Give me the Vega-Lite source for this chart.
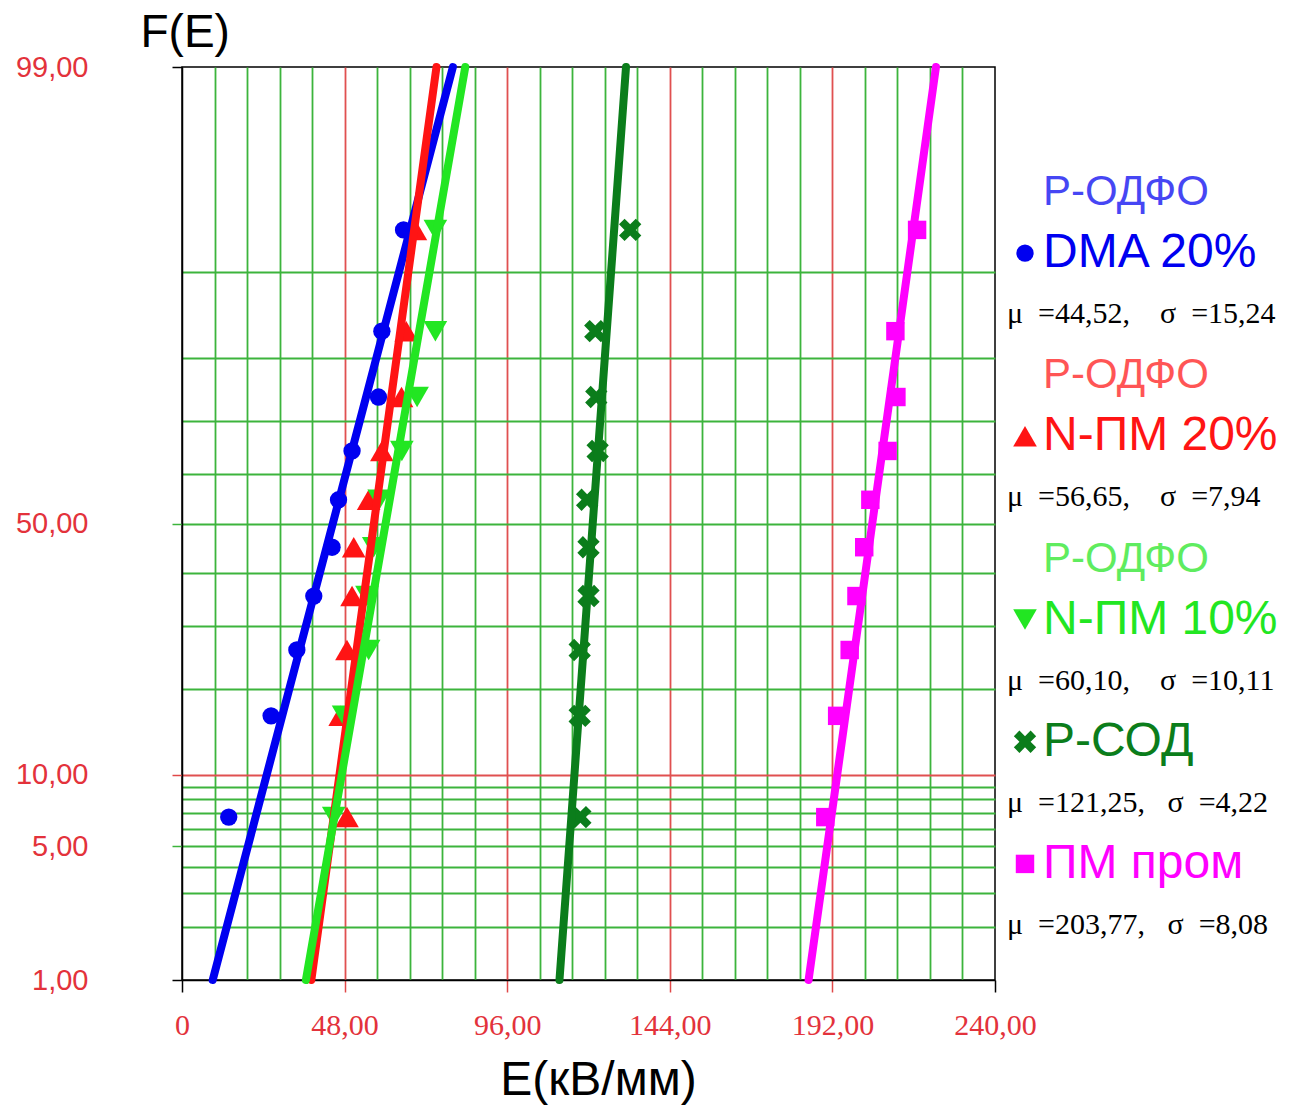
{
  "$schema": "https://vega.github.io/schema/vega-lite/v6.json",
  "background": "white",
  "padding": {"left": 14, "top": 8, "right": 0, "bottom": 0},
  "bounds": "flush",
  "spacing": 12,
  "datasets": {
    "points": [
      {"series": "DMA 20%", "F": 6.73, "E": 13.8},
      {"series": "DMA 20%", "F": 16.35, "E": 26.3},
      {"series": "DMA 20%", "F": 25.96, "E": 33.9},
      {"series": "DMA 20%", "F": 35.58, "E": 38.9},
      {"series": "DMA 20%", "F": 45.19, "E": 44.3},
      {"series": "DMA 20%", "F": 54.81, "E": 46.2},
      {"series": "DMA 20%", "F": 64.42, "E": 50.2},
      {"series": "DMA 20%", "F": 74.04, "E": 58.0},
      {"series": "DMA 20%", "F": 83.65, "E": 59.0},
      {"series": "DMA 20%", "F": 93.27, "E": 65.4},
      {"series": "N-ПМ 20%", "F": 6.73, "E": 48.7},
      {"series": "N-ПМ 20%", "F": 16.35, "E": 46.7},
      {"series": "N-ПМ 20%", "F": 25.96, "E": 48.7},
      {"series": "N-ПМ 20%", "F": 35.58, "E": 50.2},
      {"series": "N-ПМ 20%", "F": 45.19, "E": 50.7},
      {"series": "N-ПМ 20%", "F": 54.81, "E": 55.1},
      {"series": "N-ПМ 20%", "F": 64.42, "E": 59.0},
      {"series": "N-ПМ 20%", "F": 74.04, "E": 64.8},
      {"series": "N-ПМ 20%", "F": 83.65, "E": 66.2},
      {"series": "N-ПМ 20%", "F": 93.27, "E": 68.9},
      {"series": "N-ПМ 10%", "F": 6.73, "E": 44.8},
      {"series": "N-ПМ 10%", "F": 16.35, "E": 47.7},
      {"series": "N-ПМ 10%", "F": 25.96, "E": 55.1},
      {"series": "N-ПМ 10%", "F": 35.58, "E": 54.6},
      {"series": "N-ПМ 10%", "F": 45.19, "E": 56.6},
      {"series": "N-ПМ 10%", "F": 54.81, "E": 58.2},
      {"series": "N-ПМ 10%", "F": 64.42, "E": 64.9},
      {"series": "N-ПМ 10%", "F": 74.04, "E": 69.4},
      {"series": "N-ПМ 10%", "F": 83.65, "E": 74.8},
      {"series": "N-ПМ 10%", "F": 93.27, "E": 74.8},
      {"series": "Р-СОД", "F": 6.73, "E": 117.6},
      {"series": "Р-СОД", "F": 16.35, "E": 117.4},
      {"series": "Р-СОД", "F": 25.96, "E": 117.4},
      {"series": "Р-СОД", "F": 35.58, "E": 120.0},
      {"series": "Р-СОД", "F": 45.19, "E": 120.0},
      {"series": "Р-СОД", "F": 54.81, "E": 119.6},
      {"series": "Р-СОД", "F": 64.42, "E": 122.7},
      {"series": "Р-СОД", "F": 74.04, "E": 122.3},
      {"series": "Р-СОД", "F": 83.65, "E": 122.0},
      {"series": "Р-СОД", "F": 93.27, "E": 132.3},
      {"series": "ПМ пром", "F": 6.73, "E": 189.9},
      {"series": "ПМ пром", "F": 16.35, "E": 193.4},
      {"series": "ПМ пром", "F": 25.96, "E": 197.1},
      {"series": "ПМ пром", "F": 35.58, "E": 199.1},
      {"series": "ПМ пром", "F": 45.19, "E": 201.4},
      {"series": "ПМ пром", "F": 54.81, "E": 203.2},
      {"series": "ПМ пром", "F": 64.42, "E": 208.3},
      {"series": "ПМ пром", "F": 74.04, "E": 210.9},
      {"series": "ПМ пром", "F": 83.65, "E": 210.6},
      {"series": "ПМ пром", "F": 93.27, "E": 217.0}
    ],
    "fits": [
      {"series": "DMA 20%", "F": 1, "E": 9.07},
      {"series": "DMA 20%", "F": 99, "E": 79.97},
      {"series": "N-ПМ 20%", "F": 1, "E": 38.18},
      {"series": "N-ПМ 20%", "F": 99, "E": 75.12},
      {"series": "N-ПМ 10%", "F": 1, "E": 36.58},
      {"series": "N-ПМ 10%", "F": 99, "E": 83.62},
      {"series": "Р-СОД", "F": 1, "E": 111.43},
      {"series": "Р-СОД", "F": 99, "E": 131.07},
      {"series": "ПМ пром", "F": 1, "E": 184.97},
      {"series": "ПМ пром", "F": 99, "E": 222.57}
    ],
    "legend": [
      {"line": 1, "series": "DMA 20%", "role": "header", "text": "Р-ОДФО"},
      {"line": 2, "series": "DMA 20%", "role": "name", "text": "DMA 20%"},
      {"line": 3, "series": "DMA 20%", "role": "stats", "text": "μ\u00a0\u00a0=44,52,\u00a0\u00a0\u00a0\u00a0σ\u00a0\u00a0=15,24"},
      {"line": 4, "series": "N-ПМ 20%", "role": "header", "text": "Р-ОДФО"},
      {"line": 5, "series": "N-ПМ 20%", "role": "name", "text": "N-ПМ 20%"},
      {"line": 6, "series": "N-ПМ 20%", "role": "stats", "text": "μ\u00a0\u00a0=56,65,\u00a0\u00a0\u00a0\u00a0σ\u00a0\u00a0=7,94"},
      {"line": 7, "series": "N-ПМ 10%", "role": "header", "text": "Р-ОДФО"},
      {"line": 8, "series": "N-ПМ 10%", "role": "name", "text": "N-ПМ 10%"},
      {"line": 9, "series": "N-ПМ 10%", "role": "stats", "text": "μ\u00a0\u00a0=60,10,\u00a0\u00a0\u00a0\u00a0σ\u00a0\u00a0=10,11"},
      {"line": 10, "series": "Р-СОД", "role": "name", "text": "Р-СОД"},
      {"line": 11, "series": "Р-СОД", "role": "stats", "text": "μ\u00a0\u00a0=121,25,\u00a0\u00a0\u00a0σ\u00a0\u00a0=4,22"},
      {"line": 12, "series": "ПМ пром", "role": "name", "text": "ПМ пром"},
      {"line": 13, "series": "ПМ пром", "role": "stats", "text": "μ\u00a0\u00a0=203,77,\u00a0\u00a0\u00a0σ\u00a0\u00a0=8,08"}
    ]
  },
  "resolve": {"scale": {"color": "shared", "shape": "shared", "size": "shared"}},
  "hconcat": [
    {
      "width": 813,
      "height": 913,
      "view": {"stroke": "black", "strokeWidth": 1.5},
      "layer": [
        {
          "data": {"name": "points"},
          "transform": [{"calculate": "quantileNormal(datum.F / 100)", "as": "z"}],
          "mark": {"type": "point", "filled": true, "opacity": 1},
          "encoding": {
            "x": {
              "field": "E", "type": "quantitative",
              "scale": {"domain": [0, 240], "nice": false, "zero": false},
              "axis": {
                "title": "E(кВ/мм)",
                "titleFont": "Liberation Sans", "titleFontSize": 48, "titleFontWeight": "normal",
                "titleColor": "black", "titlePadding": 16, "titleX": 416,
                "values": [0, 9.6, 19.2, 28.8, 38.4, 48, 57.6, 67.2, 76.8, 86.4, 96, 105.6, 115.2, 124.8, 134.4, 144, 153.6, 163.2, 172.8, 182.4, 192, 201.6, 211.2, 220.8, 230.4, 240],
                "tickCount": 60,
                "labelExpr": "datum.value == 0 ? '0' : (abs(datum.value / 48 - round(datum.value / 48)) < 0.001 ? replace(format(datum.value, '.2f'), '.', ',') : '')",
                "labelFont": "Liberation Sans Narrow", "labelFontSize": 30, "labelColor": "#e3323b",
                "labelPadding": 18, "labelOverlap": false, "labelFlush": false,
                "tickSize": 12, "tickWidth": 1.5,
                "tickColor": {"condition": {"test": "datum.value < 0.1 || datum.value > 239.9", "value": "black"}, "value": "#e04848"},
                "tickOpacity": {"condition": {"test": "abs(datum.value / 48 - round(datum.value / 48)) < 0.001", "value": 1}, "value": 0},
                "grid": true, "gridWidth": 1.8,
                "gridColor": {"condition": {"test": "abs(datum.value / 48 - round(datum.value / 48)) < 0.001", "value": "#e05050"}, "value": "#3cb43c"},
                "gridOpacity": {"condition": {"test": "datum.value < 0.1 || datum.value > 239.9", "value": 0}, "value": 1},
                "domainColor": "black", "domainWidth": 1.5
              }
            },
            "y": {
              "field": "z", "type": "quantitative",
              "scale": {"domain": [-2.326348, 2.326348], "nice": false, "zero": false},
              "axis": {
                "title": "F(E)", "titleAngle": 0, "titleAlign": "left", "titleBaseline": "alphabetic",
                "titleX": -42, "titleY": -21,
                "titleFont": "Liberation Sans", "titleFontSize": 46, "titleFontWeight": "normal", "titleColor": "black",
                "values": [-2.326348, -2.053749, -1.880794, -1.750686, -1.644854, -1.554774, -1.475791, -1.405072, -1.340755, -1.281552, -0.841621, -0.524401, -0.253347, 0, 0.253347, 0.524401, 0.841621, 1.281552, 2.326348],
                "tickCount": 60,
                "labelExpr": "indexof([1, 5, 10, 50, 99], round(cumulativeNormal(datum.value) * 100)) >= 0 ? replace(format(round(cumulativeNormal(datum.value) * 100), '.2f'), '.', ',') : ''",
                "labelFont": "Liberation Sans", "labelFontSize": 29, "labelColor": "#e3323b",
                "labelPadding": 84, "labelOverlap": false, "labelFlush": false, "labelBaseline": "middle",
                "tickSize": 10, "tickWidth": 1.5,
                "tickColor": {"condition": [
                  {"test": "abs(datum.value + 1.281552) < 0.001", "value": "#e04848"},
                  {"test": "abs(datum.value) > 2.3", "value": "black"}
                ], "value": "#3cb43c"},
                "tickOpacity": {"condition": {"test": "indexof([1, 5, 10, 50, 99], round(cumulativeNormal(datum.value) * 100)) >= 0", "value": 1}, "value": 0},
                "grid": true, "gridWidth": 1.8,
                "gridColor": {"condition": {"test": "abs(datum.value + 1.281552) < 0.001", "value": "#e05050"}, "value": "#3cb43c"},
                "gridOpacity": {"condition": {"test": "abs(datum.value) > 2.3", "value": 0}, "value": 1},
                "domainColor": "black", "domainWidth": 1.5
              }
            },
            "color": {
              "field": "series", "type": "nominal", "legend": null,
              "scale": {
                "domain": ["DMA 20%", "N-ПМ 20%", "N-ПМ 10%", "Р-СОД", "ПМ пром"],
                "range": ["#0000f0", "#ff1414", "#22e622", "#0b7d1b", "#ff00ff"]
              }
            },
            "shape": {
              "field": "series", "type": "nominal", "legend": null,
              "scale": {
                "domain": ["DMA 20%", "N-ПМ 20%", "N-ПМ 10%", "Р-СОД", "ПМ пром"],
                "range": ["circle", "triangle-up", "triangle-down", "M-1,-0.5L-0.5,-1L0,-0.5L0.5,-1L1,-0.5L0.5,0L1,0.5L0.5,1L0,0.5L-0.5,1L-1,0.5L-0.5,0Z", "square"]
              }
            },
            "size": {
              "field": "series", "type": "nominal", "legend": null,
              "scale": {
                "type": "ordinal",
                "domain": ["DMA 20%", "N-ПМ 20%", "N-ПМ 10%", "Р-СОД", "ПМ пром"],
                "range": [300, 560, 560, 500, 340]
              }
            }
          }
        },
        {
          "data": {"name": "fits"},
          "transform": [{"calculate": "quantileNormal(datum.F / 100)", "as": "z"}],
          "mark": {"type": "line", "strokeWidth": 8, "strokeCap": "round"},
          "encoding": {
            "x": {"field": "E", "type": "quantitative"},
            "y": {"field": "z", "type": "quantitative"},
            "color": {"field": "series", "type": "nominal", "legend": null}
          }
        }
      ]
    },
    {
      "width": 36,
      "height": 913,
      "data": {"name": "legend"},
      "encoding": {
        "y": {"field": "line", "type": "ordinal", "axis": null, "scale": {"type": "point", "padding": 0, "range": [125, 858]}}
      },
      "layer": [
        {
          "transform": [{"filter": "datum.role == 'header'"}],
          "mark": {"type": "text", "align": "left", "baseline": "middle", "font": "Liberation Sans", "fontSize": 42, "opacity": 0.72},
          "encoding": {
            "x": {"datum": "name", "type": "nominal", "axis": null, "scale": {"type": "point", "domain": ["stats", "marker", "name"], "padding": 0}},
            "text": {"field": "text"},
            "color": {"field": "series", "type": "nominal", "legend": null}
          }
        },
        {
          "transform": [{"filter": "datum.role == 'name'"}],
          "mark": {"type": "text", "align": "left", "baseline": "middle", "font": "Liberation Sans", "fontSize": 48},
          "encoding": {
            "x": {"datum": "name", "type": "nominal"},
            "text": {"field": "text"},
            "color": {"field": "series", "type": "nominal", "legend": null}
          }
        },
        {
          "transform": [{"filter": "datum.role == 'name'"}],
          "mark": {"type": "point", "filled": true, "opacity": 1, "dx": -7},
          "encoding": {
            "x": {"datum": "marker", "type": "nominal"},
            "color": {"field": "series", "type": "nominal", "legend": null},
            "shape": {"field": "series", "type": "nominal", "legend": null},
            "size": {
              "field": "series", "type": "nominal", "legend": null,
              "scale": {
                "type": "ordinal",
                "domain": ["DMA 20%", "N-ПМ 20%", "N-ПМ 10%", "Р-СОД", "ПМ пром"],
                "range": [300, 560, 560, 500, 340]
              }
            }
          }
        },
        {
          "transform": [{"filter": "datum.role == 'stats'"}],
          "mark": {"type": "text", "align": "left", "baseline": "middle", "font": "Liberation Serif", "fontSize": 30, "color": "black"},
          "encoding": {
            "x": {"datum": "stats", "type": "nominal"},
            "text": {"field": "text"}
          }
        }
      ]
    }
  ],
  "config": {
    "view": {"stroke": null},
    "font": "Liberation Sans"
  }
}
